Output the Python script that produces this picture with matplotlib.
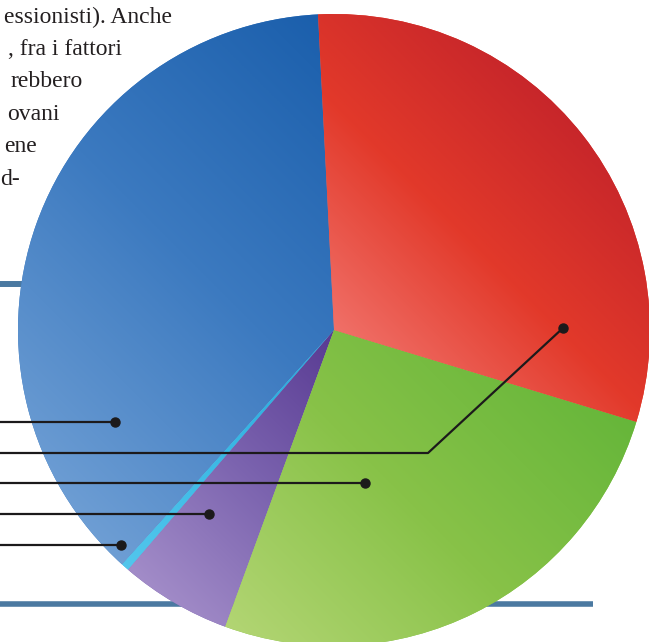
import numpy as np
import matplotlib
matplotlib.use("Agg")
import matplotlib.pyplot as plt
from matplotlib.colors import LinearSegmentedColormap, Normalize

W, H = 649, 642

# quote della torta, in senso antiorario partendo dal blu
quote = [37.5, 0.4, 5.7, 25.9, 30.5]
# sfumature: dal chiaro (basso a sinistra) allo scuro (alto a destra)
sfumature = [
    ["#6e9ed4", "#3c7ac0", "#1b5fac"],
    ["#52c6ec", "#3ab8e4", "#2aa6da"],
    ["#a28cc8", "#7a62ae", "#583a92"],
    ["#b2d573", "#88c248", "#66b63a"],
    ["#f07068", "#e2392a", "#c7262a"],
]

# testo della colonna (tagliato a sinistra nella scansione)
righe_testo = ["essionisti). Anche", ", fra i fattori", "rebbero", "ovani", "ene", "d-"]

# layout in pixel (y dall'alto)
centro = (334, 330)
raggio = 316
fine_righe = [172, 122, 83, 60, 37, 20]
base_righe = [23, 55, 87, 120, 152, 185]
# punti dei richiami: blu, rosso, verde, viola, azzurro
richiami = [(115, 422), (563, 328), (365, 483), (209, 514), (121, 545)]
gomito_rosso = (428, 453)


def py(y):
    return H - y


fig = plt.figure(figsize=(W / 100, H / 100), dpi=100)
ax = fig.add_axes([0, 0, 1, 1])

# filetti orizzontali dietro la torta
ax.plot([0, 30], [py(283.5), py(283.5)], color="#4b79a1", lw=4.3, solid_capstyle="butt", zorder=0.5)
ax.plot([0, 593], [py(603.5), py(603.5)], color="#4b79a1", lw=4.0, solid_capstyle="butt", zorder=0.5)

cx, cy = centro[0], py(centro[1])
wedges, _ = ax.pie(quote, colors=[s[1] for s in sfumature], startangle=92.9, counterclock=True,
                   center=(cx, cy), radius=raggio, wedgeprops=dict(linewidth=0))

# sfumatura diagonale per ogni spicchio
n = 400
xs = np.linspace(cx - raggio, cx + raggio, n)
ys = np.linspace(cy - raggio, cy + raggio, n)
XX, YY = np.meshgrid(xs, ys)
T = (XX - cx) + (YY - cy)
for w, cols in zip(wedges, sfumature):
    v = w.get_path().vertices
    tv = (v[:, 0] - cx) + (v[:, 1] - cy)
    cmap = LinearSegmentedColormap.from_list("g", cols)
    im = ax.imshow(T, extent=[cx - raggio, cx + raggio, cy - raggio, cy + raggio],
                   origin="lower", cmap=cmap, norm=Normalize(tv.min(), tv.max()),
                   interpolation="bilinear", zorder=1.5)
    im.set_clip_path(w)

# richiami
col_linea = "#1c1a1b"
for i, (dx, dy) in enumerate(richiami):
    if i == 1:
        ax.plot([0, gomito_rosso[0], dx], [py(gomito_rosso[1]), py(gomito_rosso[1]), py(dy)],
                color=col_linea, lw=1.6, zorder=3)
    else:
        ax.plot([0, dx], [py(dy), py(dy)], color=col_linea, lw=1.6, zorder=3)
    ax.plot(dx, py(dy), "o", color=col_linea, ms=6.5, zorder=3.5)

for t, xr, yb in zip(righe_testo, fine_righe, base_righe):
    ax.text(xr, py(yb), t, ha="right", va="baseline", fontsize=17,
            family="Liberation Serif", color="#231f20", zorder=4)

ax.set_xlim(0, W)
ax.set_ylim(0, H)
ax.set_aspect("equal")
ax.axis("off")
fig.savefig("out.png", dpi=100)
